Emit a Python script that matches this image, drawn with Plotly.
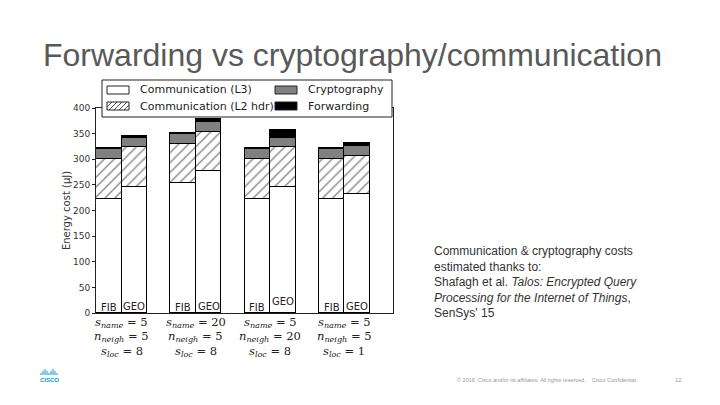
import plotly.graph_objects as go

# ---- data ----
bar_labels = ["FIB", "GEO", "FIB", "GEO", "FIB", "GEO", "FIB", "GEO"]
comm_l3 = [223, 246, 254, 277, 223, 246, 223, 232]
comm_l2 = [77, 77, 76, 77, 77, 77, 77, 75]
crypto = [20, 18, 20, 19, 20, 18, 20, 19]
forwarding = [1, 5, 1, 6, 1, 16, 1, 5]
series_names = ["Communication (L3)", "Communication (L2 hdr)", "Cryptography", "Forwarding"]
group_params = [
    ("5", "5", "8"),
    ("20", "5", "8"),
    ("5", "20", "8"),
    ("5", "5", "1"),
]
y_ticks = [0, 50, 100, 150, 200, 250, 300, 350, 400]

STRIDE = 2.9
xpos = [g * STRIDE + 0.5 + k for g in range(4) for k in range(2)]

W, H = 720, 405
PL, PR, PT, PB = 96, 327, 108, 92
pw, ph = W - PL - PR, H - PT - PB


def px_x(px):
    return (px - PL) / pw


def px_y(py):
    return (H - py - PB) / ph


fig = go.Figure()
edge = dict(color="black", width=1)
hatch = dict(shape="/", fgcolor="black", bgcolor="white", size=7, solidity=0.18)
fills = ["white", "white", "#808080", "black"]
values = [comm_l3, comm_l2, crypto, forwarding]
for i, (nm, vals, fc) in enumerate(zip(series_names, values, fills)):
    mk = dict(color=fc, line=edge)
    if i == 1:
        mk["pattern"] = hatch
    fig.add_trace(go.Bar(x=xpos, y=vals, name=nm, width=1, marker=mk, showlegend=False))

ann = []
for i, (x, lab) in enumerate(zip(xpos, bar_labels)):
    yv = 10 if lab == "FIB" else (23 if i == 5 else 12)
    ann.append(dict(x=x, y=yv, xref="x", yref="y", text=lab, showarrow=False,
                    font=dict(family="DejaVu Sans", size=10, color="#222")))

for g, (sn, nn, sl) in enumerate(group_params):
    cx = g * STRIDE + 1.0
    lines = [
        f"<i>s</i><sub><i>name</i></sub> = {sn}",
        f"<i>n</i><sub><i>neigh</i></sub> = {nn}",
        f"<i>s</i><sub><i>loc</i></sub> = {sl}",
    ]
    for j, t in enumerate(lines):
        ann.append(dict(x=cx, xref="x", y=px_y(322 + j * 14.5), yref="paper", text=t,
                        showarrow=False, yanchor="middle",
                        font=dict(family="DejaVu Serif", size=11.5, color="#222")))

# ---- legend (drawn by hand to match the two-column boxed layout) ----
shapes = []
shapes.append(dict(type="rect", xref="paper", yref="paper", layer="above",
                   x0=px_x(102), x1=px_x(392), y0=px_y(117), y1=px_y(80),
                   fillcolor="white", line=dict(color="#222", width=1)))
legend_slots = [  # (col x of patch, row y center) for each series
    (107, 90), (107, 106), (275, 90), (275, 106)
]
PW_, PH_ = 22, 8
for i, (nm, (lx, ly)) in enumerate(zip(series_names, legend_slots)):
    x0, x1, y0, y1 = lx, lx + PW_, ly - PH_ / 2, ly + PH_ / 2
    shapes.append(dict(type="rect", xref="paper", yref="paper", layer="above",
                       x0=px_x(x0), x1=px_x(x1), y0=px_y(y1), y1=px_y(y0),
                       fillcolor=fills[i], line=dict(color="#222", width=1)))
    if i == 1:
        c = -PH_
        while c < PW_:
            sx, sy = x0 + c, y1
            ex, ey = sx + PH_, y0
            if sx < x0:
                sy -= (x0 - sx)
                sx = x0
            if ex > x1:
                ey += (ex - x1)
                ex = x1
            if ex > sx:
                shapes.append(dict(type="line", xref="paper", yref="paper", layer="above",
                                   x0=px_x(sx), x1=px_x(ex), y0=px_y(sy), y1=px_y(ey),
                                   line=dict(color="#222", width=0.8)))
            c += 5
    ann.append(dict(x=px_x(x1 + 9), y=px_y(ly), xref="paper", yref="paper",
                    xanchor="left", yanchor="middle", showarrow=False, text=nm,
                    font=dict(family="DejaVu Sans", size=11, color="#222")))

# right-hand text
ann.append(dict(
    x=px_x(432), y=px_y(242), xref="paper", yref="paper", xanchor="left", yanchor="top",
    align="left", showarrow=False,
    text=("Communication &amp; cryptography costs<br>estimated thanks to:<br>"
          "Shafagh et al. <i>Talos: Encrypted Query</i><br>"
          "<i>Processing for the Internet of Things</i>,<br>SenSys' 15"),
    font=dict(family="Liberation Sans", size=12, color="#333")))

# footer
ann.append(dict(x=px_x(455), y=px_y(380), xref="paper", yref="paper", xanchor="left",
                yanchor="middle", showarrow=False,
                text="© 2016  Cisco and/or its affiliates. All rights reserved.    Cisco Confidential",
                font=dict(family="Liberation Sans", size=5.5, color="#999")))
ann.append(dict(x=px_x(678), y=px_y(380), xref="paper", yref="paper", xanchor="center",
                yanchor="middle", showarrow=False, text="12",
                font=dict(family="Liberation Sans", size=6, color="#999")))
ann.append(dict(x=px_x(49), y=px_y(380), xref="paper", yref="paper", xanchor="center",
                yanchor="middle", showarrow=False, text="<b>CISCO</b>",
                font=dict(family="Liberation Sans", size=6, color="#049fd9")))

heights = [2, 4, 6, 4, 2, 4, 6, 4, 2]
for k, h in enumerate(heights):
    px = 41 + k * 2
    shapes.append(dict(type="line", xref="paper", yref="paper",
                       x0=px_x(px), x1=px_x(px),
                       y0=px_y(375), y1=px_y(375 - h),
                       line=dict(color="#049fd9", width=1)))

fig.update_layout(
    width=W, height=H,
    margin=dict(l=PL, r=PR, t=PT, b=PB),
    paper_bgcolor="white", plot_bgcolor="white",
    barmode="stack", bargap=0,
    title=dict(text="Forwarding vs cryptography/communication", x=43 / W, xanchor="left",
               y=1 - 55 / H, yanchor="middle",
               font=dict(family="Liberation Sans", size=32, color="#595959")),
    xaxis=dict(range=[0, 11.6], showticklabels=False, ticks="",
               showgrid=False, zeroline=False, showline=True, linecolor="#222",
               linewidth=1, mirror=True),
    yaxis=dict(range=[0, 400], tickvals=y_ticks, ticks="outside", ticklen=3,
               tickcolor="#222", showgrid=False, zeroline=False, showline=True,
               linecolor="#222", linewidth=1, mirror=True,
               tickfont=dict(family="DejaVu Sans", size=9, color="#333"),
               title=dict(text="Energy cost (μJ)", standoff=0,
                          font=dict(family="DejaVu Sans", size=10, color="#333"))),
    showlegend=False,
    annotations=ann,
    shapes=shapes,
)

fig.write_html("out.html")
